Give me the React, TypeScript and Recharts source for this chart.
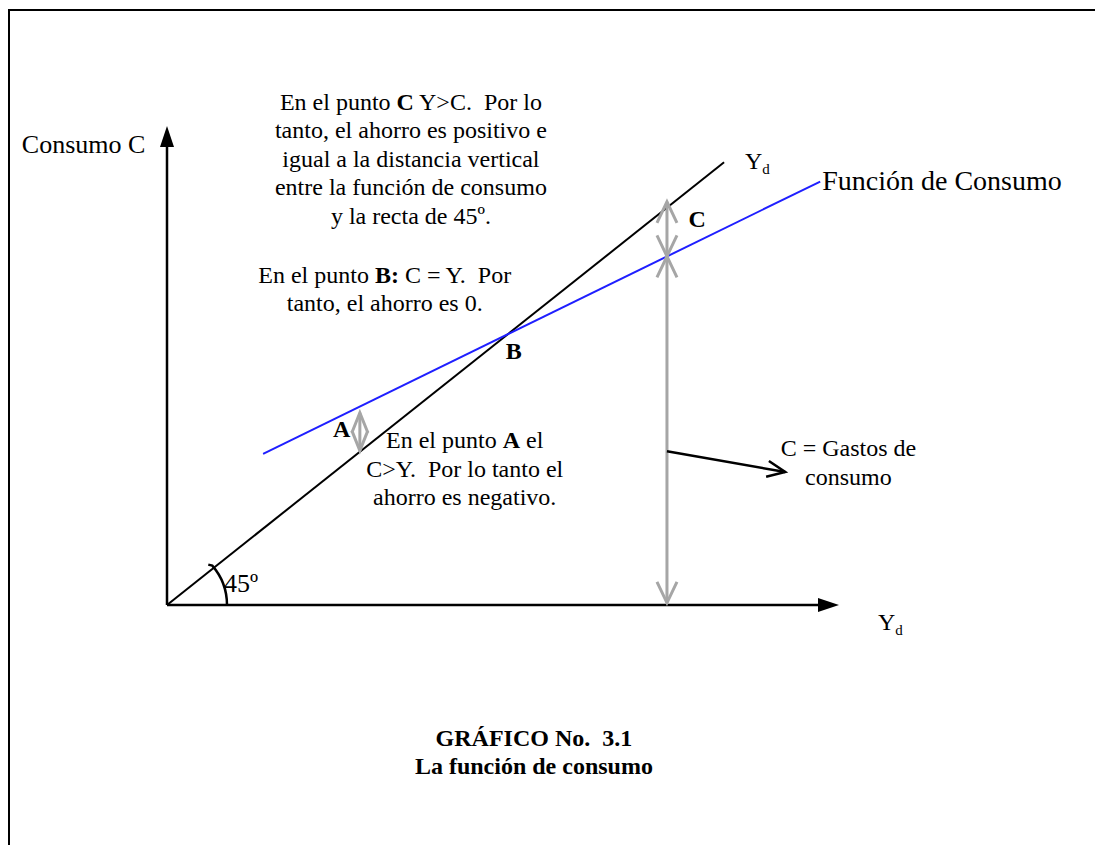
import React from "react";
import { LineChart, Line, XAxis, YAxis, ReferenceLine, ReferenceDot } from "recharts";

// Unidades del gráfico: Yd en el eje x, C (consumo) en el eje y
const ejeY = [{ x: 0, y: 0 }, { x: 0, y: 89.7 }];
const ejeX = [{ x: 0, y: 0 }, { x: 100, y: 0 }];
const recta45 = [{ x: 0, y: 0 }, { x: 82.9, y: 82.9 }];
const funcionConsumo = [{ x: 14.3, y: 28.3 }, { x: 97.2, y: 79.3 }];

// distancias verticales (flechas grises) y flecha negra
const distA = [{ x: 28.7, y: 36.0 }, { x: 28.7, y: 28.9 }];
const distC = [{ x: 74.4, y: 75.5 }, { x: 74.4, y: 65.3 }];
const gastoC = [{ x: 74.4, y: 65.3 }, { x: 74.4, y: 0.4 }];
const puntero = [{ x: 74.4, y: 28.8 }, { x: 92.0, y: 24.9 }];

// textos
const notaC = [
  "En el punto **C** Y>C.  Por lo",
  "tanto, el ahorro es positivo e",
  "igual a la distancia vertical",
  "entre la función de consumo",
  "y la recta de 45º.",
];
const notaB = ["En el punto **B:** C = Y.  Por", "tanto, el ahorro es 0."];
const notaA = ["En el punto **A** el", "C>Y.  Por lo tanto el", "ahorro es negativo."];
const notaGasto = ["C = Gastos de", "consumo"];
const titulo = ["**GRÁFICO No.  3.1**", "**La función de consumo**"];

const FONT = '"Liberation Serif", "Times New Roman", serif';
const GRIS = "#a6a6a6";
const LH = 28.5;

type Head = "fill" | "open" | null;

function arrowShape(color: string, width: number, start: Head, end: Head, len = 20, half = 8) {
  return (p: any) => {
    const { x1, y1, x2, y2 } = p;
    const dx = x2 - x1;
    const dy = y2 - y1;
    const d = Math.hypot(dx, dy) || 1;
    const ux = dx / d;
    const uy = dy / d;
    const nx = -uy;
    const ny = ux;
    let sx = x1, sy = y1, ex = x2, ey = y2;
    const heads: React.ReactNode[] = [];
    const mk = (tx: number, ty: number, dirx: number, diry: number, kind: Head, key: string) => {
      const bx = tx - dirx * len;
      const by = ty - diry * len;
      const pts = `${bx + nx * half},${by + ny * half} ${tx},${ty} ${bx - nx * half},${by - ny * half}`;
      if (kind === "fill") {
        heads.push(<polygon key={key} points={pts} fill={color} stroke="none" />);
      } else {
        heads.push(
          <polyline key={key} points={pts} fill="none" stroke={color} strokeWidth={width} strokeLinejoin="miter" />
        );
      }
      return [bx, by];
    };
    if (end) {
      const [bx, by] = mk(x2, y2, ux, uy, end, "e");
      if (end === "fill") { ex = bx; ey = by; }
    }
    if (start) {
      const [bx, by] = mk(x1, y1, -ux, -uy, start, "s");
      if (start === "fill") { sx = bx; sy = by; }
    }
    return (
      <g>
        <line x1={sx} y1={sy} x2={ex} y2={ey} stroke={color} strokeWidth={width} />
        {heads}
      </g>
    );
  };
}

function renderLine(s: string) {
  return s.split("**").map((part, i) => (
    <tspan key={i} fontWeight={i % 2 === 1 ? "bold" : "normal"}>
      {part}
    </tspan>
  ));
}

function textShape(lines: string[], anchor: "start" | "middle", size = 24) {
  return (p: any) => (
    <text
      x={p.cx}
      y={p.cy}
      textAnchor={anchor}
      fontFamily={FONT}
      fontSize={size}
      fill="#000"
      style={{ whiteSpace: "pre" }}
    >
      {lines.map((l, i) => (
        <tspan key={i} x={p.cx} dy={i === 0 ? 0 : LH}>
          {renderLine(l)}
        </tspan>
      ))}
    </text>
  );
}

function ydShape(p: any) {
  return (
    <text x={p.cx} y={p.cy} fontFamily={FONT} fontSize={24} fill="#000">
      Y
      <tspan fontSize={15} dy={5}>d</tspan>
    </text>
  );
}

function arcShape(p: any) {
  const r = 60;
  const a = (41 * Math.PI) / 180;
  const ex = p.cx + r * Math.cos(a);
  const ey = p.cy - r * Math.sin(a);
  return (
    <path
      d={`M ${p.cx + r} ${p.cy} A ${r} ${r} 0 0 0 ${ex} ${ey} l -4 -1`}
      fill="none"
      stroke="#000"
      strokeWidth={2.5}
    />
  );
}

const notes: { x: number; y: number; shape: any }[] = [
  { x: 36.3, y: 92.7, shape: textShape(notaC, "middle") },
  { x: 32.4, y: 60.3, shape: textShape(notaB, "middle") },
  { x: 51.6, y: 46.1, shape: textShape(["**B**"], "middle") },
  { x: 78.9, y: 70.8, shape: textShape(["**C**"], "middle") },
  { x: 26.0, y: 31.5, shape: textShape(["**A**"], "middle") },
  { x: 44.3, y: 29.4, shape: textShape(notaA, "middle") },
  { x: 101.4, y: 27.9, shape: textShape(notaGasto, "middle") },
  { x: 8.5, y: 2.4, shape: textShape(["45º"], "start", 26) },
  { x: -21.6, y: 84.6, shape: textShape(["Consumo C"], "start", 26) },
  { x: 97.5, y: 77.7, shape: textShape(["Función de Consumo"], "start", 28) },
  { x: 86.0, y: 81.6, shape: ydShape },
  { x: 105.8, y: -4.7, shape: ydShape },
  { x: 54.6, y: -26.4, shape: textShape(titulo, "middle") },
];

export default function App() {
  return (
    <div style={{ position: "absolute", left: 0, top: 0, width: 1095, height: 845, overflow: "hidden", background: "#fff" }}>
      <div
        style={{
          position: "absolute",
          left: 8,
          top: 9,
          width: 1095,
          height: 845,
          borderLeft: "2.5px solid #000",
          borderTop: "2.5px solid #000",
        }}
      />
      <div style={{ position: "absolute", left: 0, top: 0 }}>
        <LineChart width={1095} height={845} margin={{ top: 71, right: 256, bottom: 240, left: 167 }}>
          <XAxis type="number" dataKey="x" domain={[0, 100]} hide allowDataOverflow />
          <YAxis type="number" dataKey="y" domain={[0, 100]} hide allowDataOverflow />
          <ReferenceLine segment={ejeY} ifOverflow="visible" shape={arrowShape("#000", 2.5, null, "fill", 21, 7)} />
          <ReferenceLine segment={ejeX} ifOverflow="visible" shape={arrowShape("#000", 2.5, null, "fill", 21, 7)} />
          <Line data={recta45} dataKey="y" type="linear" stroke="#000" strokeWidth={2} dot={false} isAnimationActive={false} />
          <Line data={funcionConsumo} dataKey="y" type="linear" stroke="#1f1fff" strokeWidth={2} dot={false} isAnimationActive={false} />
          <ReferenceLine segment={distA} ifOverflow="visible" shape={arrowShape(GRIS, 3, "open", "open", 20, 8)} />
          <ReferenceLine segment={distC} ifOverflow="visible" shape={arrowShape(GRIS, 3, "open", "open", 21, 10)} />
          <ReferenceLine segment={gastoC} ifOverflow="visible" shape={arrowShape(GRIS, 3, "open", "open", 21, 10)} />
          <ReferenceLine segment={puntero} ifOverflow="visible" shape={arrowShape("#000", 2.5, null, "open", 18, 8)} />
          <ReferenceDot x={0} y={0} r={0} ifOverflow="visible" shape={arcShape} />
          {notes.map((n, i) => (
            <ReferenceDot key={i} x={n.x} y={n.y} r={0} ifOverflow="visible" shape={n.shape} />
          ))}
        </LineChart>
      </div>
    </div>
  );
}
